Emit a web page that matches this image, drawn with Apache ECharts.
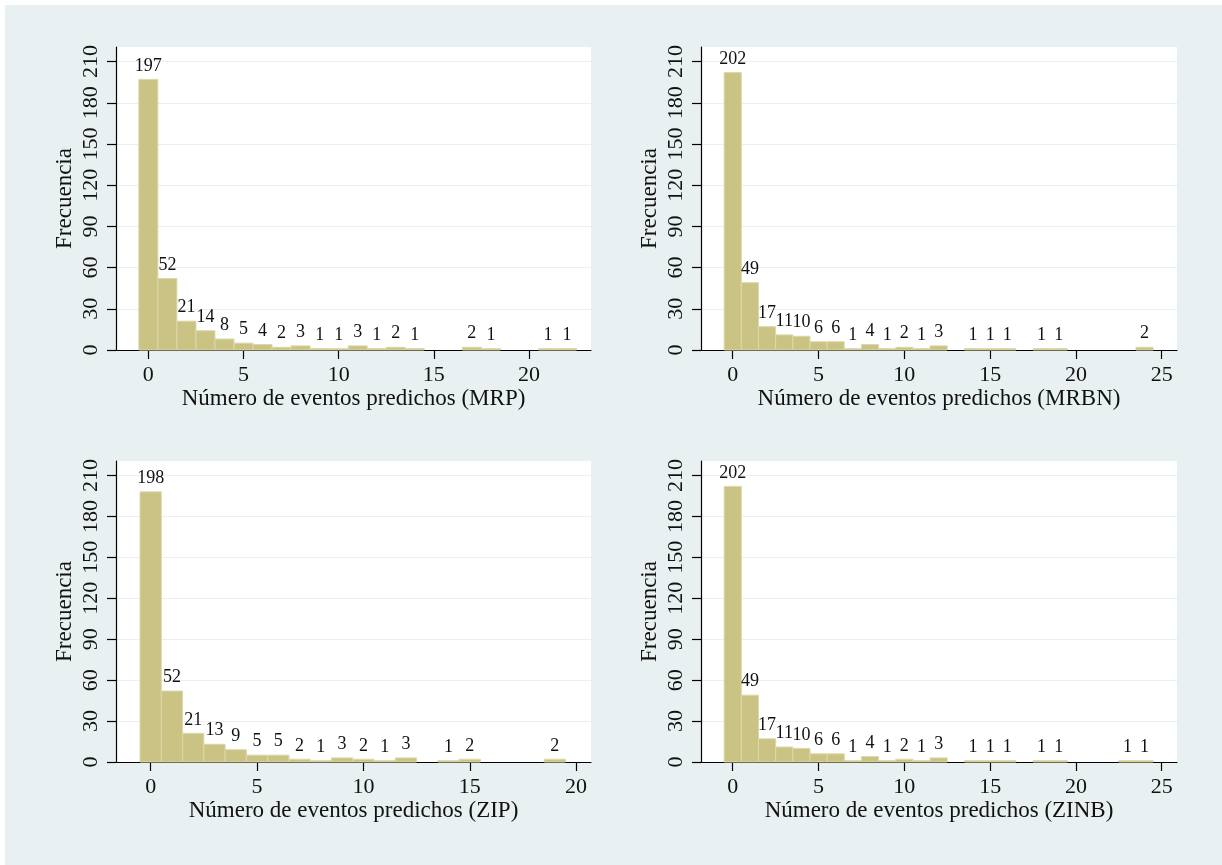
<!DOCTYPE html>
<html>
<head>
<meta charset="utf-8">
<script src="https://cdn.jsdelivr.net/npm/echarts@6/dist/echarts.min.js"></script>
<style>
  html, body { margin: 0; padding: 0; background: #fff; }
  #wrap { position: relative; width: 1222px; height: 865px; background: #fff; }
  #chart { position: absolute; left: 5px; top: 5px; width: 1217px; height: 860px; }
</style>
</head>
<body>
<div id="wrap"><div id="chart"></div></div>
<script>
// frecuencias por número de eventos predichos (bins 0, 1, 2, ...)
var mrp  = [197, 52, 21, 14, 8, 5, 4, 2, 3, 1, 1, 3, 1, 2, 1, 0, 0, 2, 1, 0, 0, 1, 1]
var mrbn = [202, 49, 17, 11, 10, 6, 6, 1, 4, 1, 2, 1, 3, 0, 1, 1, 1, 0, 1, 1, 0, 0, 0, 0, 2]
var zip  = [198, 52, 21, 13, 9, 5, 5, 2, 1, 3, 2, 1, 3, 0, 1, 2, 0, 0, 0, 2]
var zinb = [202, 49, 17, 11, 10, 6, 6, 1, 4, 1, 2, 1, 3, 0, 1, 1, 1, 0, 1, 1, 0, 0, 0, 1, 1]

var yTicks = [0, 30, 60, 90, 120, 150, 180, 210]
var xTicks20 = [0, 5, 10, 15, 20]
var xTicks25 = [0, 5, 10, 15, 20, 25]
var xTitles = [
  'Número de eventos predichos (MRP)',
  'Número de eventos predichos (MRBN)',
  'Número de eventos predichos (ZIP)',
  'Número de eventos predichos (ZINB)'
]
var yTitle = 'Frecuencia'

var FONT = '"Liberation Serif", "Times New Roman", serif'
var BG = '#e9f0f2'
var BAR = '#cbc384'
var BAR_EDGE = '#dcd8aa'

var myChart = echarts.init(document.getElementById('chart'))

// panel layout (pixels inside the chart div) and x-range
var panels = [
  { data: mrp,  ticks: xTicks20, grid: { left: 111, top: 42, width: 475, height: 303 }, xmin: -1.70, xmax: 23.26 },
  { data: mrbn, ticks: xTicks25, grid: { left: 696, top: 42, width: 476, height: 303 }, xmin: -1.85, xmax: 25.89 },
  { data: zip,  ticks: xTicks20, grid: { left: 111, top: 456, width: 475, height: 301 }, xmin: -1.63, xmax: 20.70 },
  { data: zinb, ticks: xTicks25, grid: { left: 696, top: 456, width: 476, height: 301 }, xmin: -1.85, xmax: 25.89 }
]

function renderBar(params, api) {
  var x = api.value(0)
  var y = api.value(1)
  var p0 = api.coord([x - 0.5, y])
  var p1 = api.coord([x + 0.5, 0])
  return {
    type: 'rect',
    shape: { x: p0[0], y: p0[1], width: p1[0] - p0[0], height: p1[1] - p0[1] },
    style: { fill: BAR, stroke: BAR_EDGE, lineWidth: 1 },
    textContent: {
      style: { text: String(y), fill: '#111', font: '18px ' + FONT }
    },
    textConfig: { position: 'top', distance: 4 }
  }
}

var grid = [], xAxis = [], yAxis = [], series = []
panels.forEach(function (p, i) {
  grid.push(Object.assign({ show: true, backgroundColor: '#fff', borderWidth: 0 }, p.grid))
  xAxis.push({
    type: 'value',
    gridIndex: i,
    min: p.xmin,
    max: p.xmax,
    name: xTitles[i],
    nameLocation: 'middle',
    nameGap: 37,
    nameTextStyle: { color: '#111', fontFamily: FONT, fontSize: 23 },
    axisLine: { onZero: false, lineStyle: { color: '#000', width: 1.2 } },
    axisTick: { show: true, length: 9, customValues: p.ticks, lineStyle: { color: '#000', width: 1.2 } },
    axisLabel: { customValues: p.ticks, margin: 14, color: '#111', fontFamily: FONT, fontSize: 22 },
    splitLine: { show: false }
  })
  yAxis.push({
    type: 'value',
    gridIndex: i,
    min: 0,
    max: 220.6,
    interval: 30,
    name: yTitle,
    nameLocation: 'middle',
    nameGap: 40,
    nameTextStyle: { color: '#111', fontFamily: FONT, fontSize: 23 },
    axisLine: { show: true, onZero: false, lineStyle: { color: '#000', width: 1.2 } },
    axisTick: { show: true, length: 9, customValues: yTicks, lineStyle: { color: '#000', width: 1.2 } },
    axisLabel: { customValues: yTicks, rotate: 90, margin: 14, color: '#111', fontFamily: FONT, fontSize: 22 },
    splitLine: { show: true, lineStyle: { color: BG, width: 1 } }
  })
  var pts = []
  p.data.forEach(function (v, k) {
    if (v > 0) pts.push([k, v])
  })
  series.push({
    type: 'custom',
    xAxisIndex: i,
    yAxisIndex: i,
    renderItem: renderBar,
    encode: { x: 0, y: 1 },
    data: pts,
    animation: false
  })
})

var option = {
  backgroundColor: BG,
  animation: false,
  grid: grid,
  xAxis: xAxis,
  yAxis: yAxis,
  series: series
}
myChart.setOption(option)
</script>
</body>
</html>
